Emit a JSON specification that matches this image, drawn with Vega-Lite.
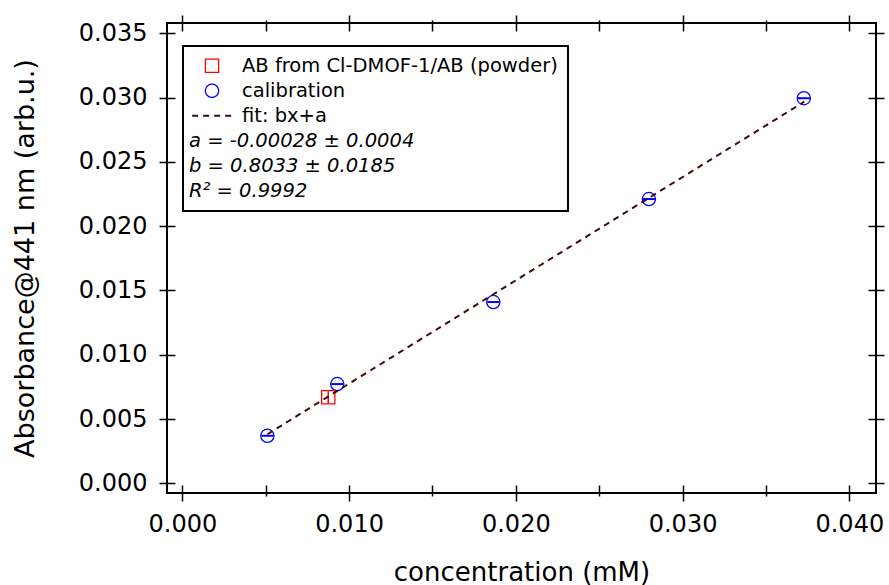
{
  "$schema": "https://vega.github.io/schema/vega-lite/v6.json",
  "width": 709,
  "height": 470,
  "autosize": {"type": "none"},
  "padding": {"left": 167, "top": 23, "right": 13, "bottom": 92},
  "background": "white",
  "config": {
    "font": "DejaVu Sans",
    "view": {"stroke": "#000000", "strokeWidth": 2},
    "axis": {
      "grid": false,
      "domain": false,
      "tickColor": "#000000",
      "tickWidth": 1.5,
      "labelColor": "#000000",
      "titleColor": "#000000",
      "labelFontSize": 24,
      "titleFontSize": 26,
      "titleFontWeight": "normal",
      "labelFont": "DejaVu Sans",
      "titleFont": "DejaVu Sans",
      "offset": -8
    }
  },
  "datasets": {
    "points": [
      {"series": "calibration", "concentration": 0.0051, "absorbance": 0.0037, "xerr": 0.00036, "yerr": 0},
      {"series": "calibration", "concentration": 0.00929, "absorbance": 0.00772, "xerr": 0.00036, "yerr": 0},
      {"series": "calibration", "concentration": 0.01865, "absorbance": 0.0141, "xerr": 0.00036, "yerr": 0},
      {"series": "calibration", "concentration": 0.02798, "absorbance": 0.02211, "xerr": 0.00036, "yerr": 0},
      {"series": "calibration", "concentration": 0.03727, "absorbance": 0.02995, "xerr": 0.00036, "yerr": 0},
      {"series": "AB from Cl-DMOF-1/AB (powder)", "concentration": 0.00875, "absorbance": 0.00669, "xerr": 0, "yerr": 0.00048}
    ],
    "fit": [
      {"concentration": 0.0051, "absorbance": 0.00382},
      {"concentration": 0.0373, "absorbance": 0.02968}
    ]
  },
  "layer": [
    {
      "data": {"name": "points"},
      "transform": [{"filter": "datum.series == 'calibration'"}],
      "mark": {"type": "errorbar", "color": "#0000ff", "thickness": 2},
      "encoding": {
        "x": {"field": "concentration", "type": "quantitative", "scale": {"domain": [-0.00092, 0.0416], "nice": false, "zero": false}, "axis": null},
        "xError": {"field": "xerr"},
        "y": {"field": "absorbance", "type": "quantitative", "scale": {"domain": [-0.00075, 0.0358], "nice": false, "zero": false}, "axis": null}
      }
    },
    {
      "data": {"name": "points"},
      "transform": [{"filter": "datum.series != 'calibration'"}],
      "mark": {"type": "errorbar", "color": "#ff0000", "thickness": 1.5},
      "encoding": {
        "x": {"field": "concentration", "type": "quantitative", "axis": null},
        "y": {"field": "absorbance", "type": "quantitative", "axis": null},
        "yError": {"field": "yerr"}
      }
    },
    {
      "data": {"name": "points"},
      "transform": [{"filter": "datum.series == 'calibration'"}],
      "mark": {"type": "point", "shape": "circle", "size": 175, "strokeWidth": 1.3, "filled": false, "opacity": 1},
      "encoding": {
        "x": {
          "field": "concentration", "type": "quantitative",
          "axis": {
            "orient": "bottom",
            "values": [0, 0.005, 0.01, 0.015, 0.02, 0.025, 0.03, 0.035, 0.04],
            "labelExpr": "round(datum.value*1000) % 10 == 0 ? format(datum.value, '.3f') : ''",
            "tickSize": {"condition": {"test": "round(datum.value*1000) % 10 == 0", "value": 16}, "value": 11},
            "labelPadding": 11,
            "labelFlush": false,
            "labelOverlap": false,
            "title": "concentration (mM)",
            "titlePadding": 23
          }
        },
        "y": {
          "field": "absorbance", "type": "quantitative",
          "axis": {
            "orient": "left",
            "values": [0, 0.005, 0.01, 0.015, 0.02, 0.025, 0.03, 0.035],
            "format": ".3f",
            "tickSize": 16,
            "labelPadding": 12,
            "labelFlush": false,
            "labelOverlap": false,
            "title": "Absorbance@441 nm (arb.u.)",
            "titleFontSize": 27,
            "titlePadding": 39
          }
        },
        "color": {
          "field": "series", "type": "nominal",
          "scale": {
            "domain": ["AB from Cl-DMOF-1/AB (powder)", "calibration", "fit: bx+a", "a = -0.00028 ± 0.0004", "b = 0.8033 ± 0.0185", "R² = 0.9992"],
            "range": ["#ff0000", "#0000ff", "#400a0a", "#000000", "#000000", "#000000"]
          },
          "legend": {
            "title": null, "orient": "none", "legendX": 16, "legendY": 23, "direction": "vertical",
            "strokeColor": "#000000", "padding": 10, "labelFontSize": 19.5, "labelFont": "DejaVu Sans",
            "labelColor": "#000000", "labelLimit": 600, "symbolSize": 175, "symbolStrokeWidth": 1.3, "rowPadding": 4,
            "encode": {
              "legend": {"update": {"strokeWidth": {"value": 2}}},
              "symbols": {"update": {
                "x": {"value": 19},
                "shape": {"signal": "indexof(domain('color'), datum.value) == 0 ? 'square' : indexof(domain('color'), datum.value) == 2 ? 'M-3,0H3' : 'circle'"},
                "strokeDash": {"signal": "indexof(domain('color'), datum.value) == 2 ? [6,5] : [1,0]"},
                "strokeWidth": {"signal": "indexof(domain('color'), datum.value) == 2 ? 2 : 1.3"},
                "opacity": {"signal": "indexof(domain('color'), datum.value) >= 3 ? 0 : 1"},
                "fill": {"value": "transparent"}
              }},
              "labels": {"update": {
                "x": {"signal": "indexof(domain('color'), datum.value) >= 3 ? -4 : 49"},
                "fontStyle": {"signal": "indexof(domain('color'), datum.value) >= 3 ? 'italic' : 'normal'"}
              }}
            }
          }
        }
      }
    },
    {
      "data": {"name": "points"},
      "transform": [{"filter": "datum.series != 'calibration'"}],
      "mark": {"type": "point", "shape": "square", "size": 175, "strokeWidth": 1.3, "filled": false, "opacity": 1},
      "encoding": {
        "x": {
          "field": "concentration", "type": "quantitative",
          "axis": {
            "orient": "top",
            "values": [0, 0.005, 0.01, 0.015, 0.02, 0.025, 0.03, 0.035, 0.04],
            "labels": false,
            "tickSize": {"condition": {"test": "round(datum.value*1000) % 10 == 0", "value": 16}, "value": 11},
            "title": null
          }
        },
        "y": {
          "field": "absorbance", "type": "quantitative",
          "axis": {
            "orient": "right",
            "values": [0, 0.005, 0.01, 0.015, 0.02, 0.025, 0.03, 0.035],
            "labels": false,
            "tickSize": 16,
            "title": null
          }
        },
        "color": {
          "field": "series", "type": "nominal",
          "legend": {
            "title": null, "orient": "none", "legendX": 16, "legendY": 23, "direction": "vertical",
            "strokeColor": "#000000", "padding": 10, "labelFontSize": 19.5, "labelFont": "DejaVu Sans",
            "labelColor": "#000000", "labelLimit": 600, "symbolSize": 175, "symbolStrokeWidth": 1.3, "rowPadding": 4,
            "encode": {
              "legend": {"update": {"strokeWidth": {"value": 2}}},
              "symbols": {"update": {
                "x": {"value": 19},
                "shape": {"signal": "indexof(domain('color'), datum.value) == 0 ? 'square' : indexof(domain('color'), datum.value) == 2 ? 'M-3,0H3' : 'circle'"},
                "strokeDash": {"signal": "indexof(domain('color'), datum.value) == 2 ? [6,5] : [1,0]"},
                "strokeWidth": {"signal": "indexof(domain('color'), datum.value) == 2 ? 2 : 1.3"},
                "opacity": {"signal": "indexof(domain('color'), datum.value) >= 3 ? 0 : 1"},
                "fill": {"value": "transparent"}
              }},
              "labels": {"update": {
                "x": {"signal": "indexof(domain('color'), datum.value) >= 3 ? -4 : 49"},
                "fontStyle": {"signal": "indexof(domain('color'), datum.value) >= 3 ? 'italic' : 'normal'"}
              }}
            }
          }
        }
      }
    },
    {
      "data": {"name": "fit"},
      "mark": {"type": "line", "strokeDash": [6, 5], "strokeWidth": 2},
      "encoding": {
        "x": {"field": "concentration", "type": "quantitative", "axis": null},
        "y": {"field": "absorbance", "type": "quantitative", "axis": null},
        "color": {
          "datum": "fit: bx+a", "type": "nominal",
          "legend": {
            "title": null, "orient": "none", "legendX": 16, "legendY": 23, "direction": "vertical",
            "strokeColor": "#000000", "padding": 10, "labelFontSize": 19.5, "labelFont": "DejaVu Sans",
            "labelColor": "#000000", "labelLimit": 600, "symbolSize": 175, "symbolStrokeWidth": 1.3, "rowPadding": 4,
            "encode": {
              "legend": {"update": {"strokeWidth": {"value": 2}}},
              "symbols": {"update": {
                "x": {"value": 19},
                "shape": {"signal": "indexof(domain('color'), datum.value) == 0 ? 'square' : indexof(domain('color'), datum.value) == 2 ? 'M-3,0H3' : 'circle'"},
                "strokeDash": {"signal": "indexof(domain('color'), datum.value) == 2 ? [6,5] : [1,0]"},
                "strokeWidth": {"signal": "indexof(domain('color'), datum.value) == 2 ? 2 : 1.3"},
                "opacity": {"signal": "indexof(domain('color'), datum.value) >= 3 ? 0 : 1"},
                "fill": {"value": "transparent"}
              }},
              "labels": {"update": {
                "x": {"signal": "indexof(domain('color'), datum.value) >= 3 ? -4 : 49"},
                "fontStyle": {"signal": "indexof(domain('color'), datum.value) >= 3 ? 'italic' : 'normal'"}
              }}
            }
          }
        }
      }
    }
  ],
  "resolve": {"axis": {"x": "independent", "y": "independent"}}
}
